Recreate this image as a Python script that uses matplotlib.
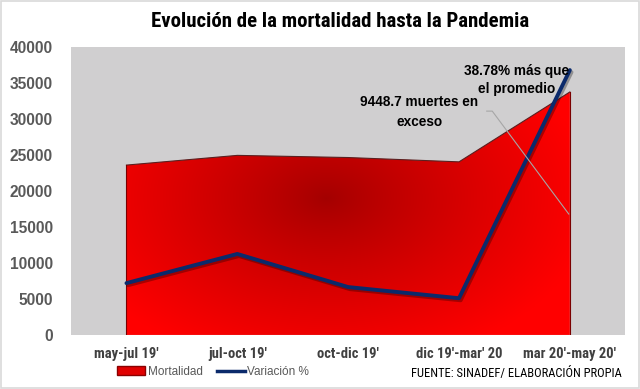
import numpy as np
import matplotlib
matplotlib.use("Agg")
import matplotlib.pyplot as plt
from matplotlib import font_manager
from matplotlib.patches import Rectangle, Patch
from matplotlib.lines import Line2D
import matplotlib.patheffects as pe

# data
periodos = ["may-jul 19'", "jul-oct 19'", "oct-dic 19'", "dic 19'-mar' 20", "mar 20'-may 20'"]
mortalidad = [23600, 24950, 24650, 24050, 33760]
variacion = [7200, 11250, 6650, 5100, 36800]
y_ticks = [0, 5000, 10000, 15000, 20000, 25000, 30000, 35000, 40000]

names = {f.name for f in font_manager.fontManager.ttflist}
narrow = [n for n in ["Liberation Sans Narrow", "DejaVu Sans Condensed", "Roboto Condensed",
                      "Open Sans Condensed", "Noto Sans Condensed"] if n in names]
NARROW = narrow[:1] + ["DejaVu Sans"] if narrow else ["DejaVu Sans"]
ARIAL = ["Liberation Sans", "DejaVu Sans"]
AZUL = "#0b2a6b"

fig = plt.figure(figsize=(6.4, 3.89), dpi=100)
fig.patch.set_facecolor("white")
fig.add_artist(Rectangle((0.002, 0.003), 0.996, 0.994, transform=fig.transFigure,
                         fill=False, edgecolor="#d9d9d9", linewidth=1.2))

ax = fig.add_axes([0.111, 0.139, 0.866, 0.740])
ax.set_facecolor("#d0cfd0")
x = np.arange(len(periodos))

# red area with a dark radial gradient in the middle
poly = ax.fill_between(x, 0, mortalidad, facecolor="none", edgecolor="none")
gx, gy = np.meshgrid(np.linspace(-0.5, 4.5, 400), np.linspace(0, 40000, 300))
r = np.sqrt(((gx - 1.8) / 2.4) ** 2 + ((gy - 19000) / 24000) ** 2)
r = np.clip(r, 0, 1)
c0 = np.array([0.64, 0.0, 0.0])
c1 = np.array([1.0, 0.0, 0.0])
img = c0 + (c1 - c0) * r[..., None] ** 0.85
im = ax.imshow(img, extent=(-0.5, 4.5, 0, 40000), origin="lower", aspect="auto", zorder=1)
im.set_clip_path(poly.get_paths()[0], transform=ax.transData)
ax.plot(x, mortalidad, color="#5a2020", linewidth=0.8, zorder=2)
ax.plot([x[0], x[0]], [0, mortalidad[0]], color="#7a0000", linewidth=0.8, zorder=2)
ax.plot([x[-1], x[-1]], [0, mortalidad[-1]], color="#7a0000", linewidth=0.8, zorder=2)

# navy line with soft shadow
ax.plot(x, variacion, color=AZUL, linewidth=2.8, zorder=3, solid_capstyle="round",
        path_effects=[pe.SimpleLineShadow(offset=(1.2, -1.5), shadow_color="black", alpha=0.3),
                      pe.Normal()])

# leader line and annotations
ax.plot([3.25, 3.3, 3.99], [31100, 31100, 16800], color="#a6a6a6", linewidth=0.8, zorder=4)
ax.text(3.52, 35400, "38.78% más que\nel promedio", ha="center", va="center", family=ARIAL,
        fontsize=9.8, fontweight="bold", color="black", linespacing=1.4, zorder=5)
ax.text(2.64, 31000, "9448.7 muertes en\nexceso", ha="center", va="center", family=ARIAL,
        fontsize=9.8, fontweight="bold", color="black", linespacing=1.55, zorder=5)

ax.set_xlim(-0.5, 4.5)
ax.set_ylim(0, 40000)
ax.set_yticks(y_ticks)
ax.set_yticklabels([str(v) for v in y_ticks], fontsize=11.2, fontweight="bold",
                   color="#595959", family=ARIAL)
ax.set_xticks(x)
ax.set_xticklabels(periodos, fontsize=10.5, fontweight="bold", color="#404040", family=NARROW)
ax.tick_params(length=0, axis="y", pad=13)
ax.tick_params(length=0, axis="x", pad=9)
for s in ax.spines.values():
    s.set_visible(False)

fig.text(0.531, 0.945, "Evolución de la mortalidad hasta la Pandemia", ha="center", va="center",
         fontsize=15, fontweight="bold", color="black", family=NARROW)

handles = [Patch(facecolor="#e00000", edgecolor="#8a0000"),
           Line2D([0], [0], color=AZUL, linewidth=2.5)]
fig.legend(handles, ["Mortalidad", "Variación %"], loc="center", bbox_to_anchor=(0.333, 0.044),
           ncol=2, frameon=False, prop={"family": ARIAL, "size": 8.5}, labelcolor="#595959",
           handlelength=2.4, handletextpad=0.2, columnspacing=1.2, handleheight=0.8)

fig.text(0.971, 0.041, "FUENTE: SINADEF/ ELABORACIÓN PROPIA", ha="right", va="center",
         fontsize=9, color="black", family=NARROW)

fig.savefig("out.png", dpi=100)
